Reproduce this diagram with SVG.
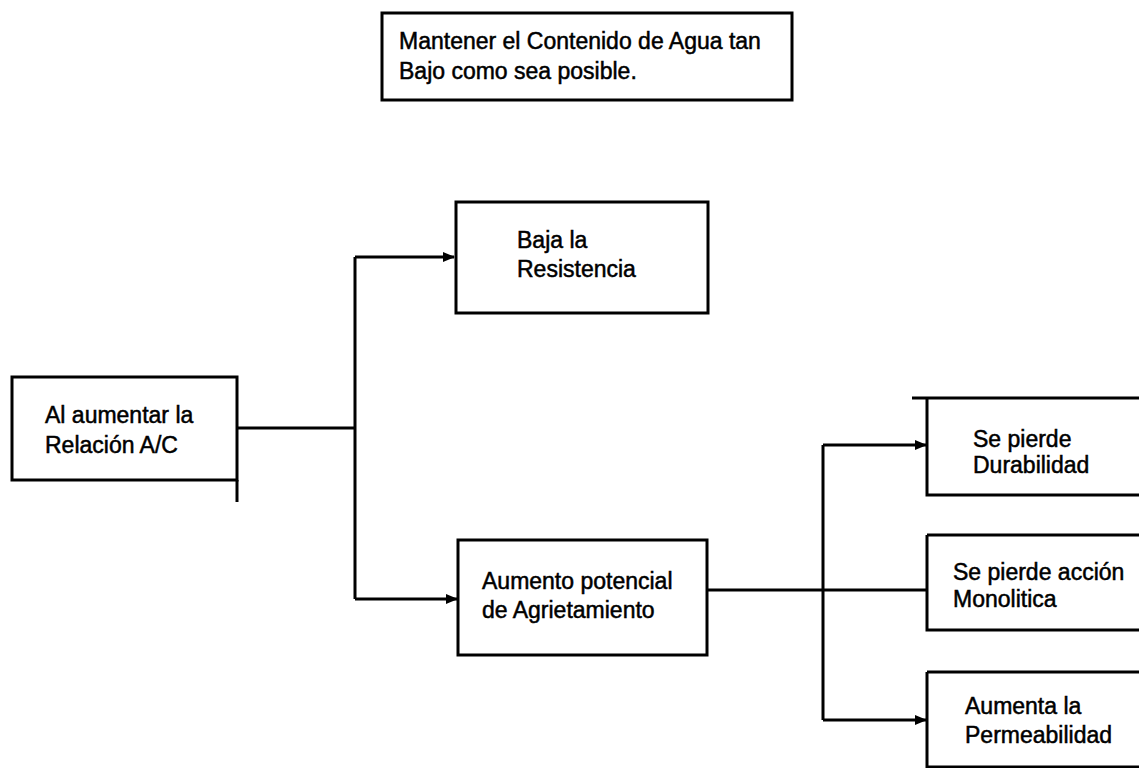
<svg xmlns="http://www.w3.org/2000/svg" width="1139" height="768" viewBox="0 0 1139 768">
<style>
.box{fill:#fff;stroke:#000;stroke-width:3}
.edge{fill:none;stroke:#000;stroke-width:3}
.t{font-family:"Liberation Sans",Arial,sans-serif;font-size:23px;fill:#000;stroke:#000;stroke-width:0.5}
</style>
<defs>
<marker id="arr" markerUnits="userSpaceOnUse" markerWidth="12" markerHeight="12" viewBox="0 0 12 12" refX="11" refY="6" orient="auto">
<path d="M0,1 L12,6 L0,11 Z" fill="#000"/>
</marker>
</defs>
<rect width="1139" height="768" fill="#fff"/>
<g id="connectors">
<path class="edge" d="M237,428 H355"/>
<path class="edge" d="M355,257 V599"/>
<path class="edge" d="M355,257 H454" marker-end="url(#arr)"/>
<path class="edge" d="M355,599 H457" marker-end="url(#arr)"/>
<path class="edge" d="M707,590 H927"/>
<path class="edge" d="M823,445 V720"/>
<path class="edge" d="M823,445 H926" marker-end="url(#arr)"/>
<path class="edge" d="M823,720 H926" marker-end="url(#arr)"/>
</g>
<g id="n_top">
<rect class="box" x="382" y="13" width="410" height="87"/>
<text class="t" x="399" y="49">Mantener el Contenido de Agua tan</text>
<text class="t" x="399" y="79">Bajo como sea posible.</text>
</g>
<g id="n_relacion">
<rect class="box" x="12" y="377" width="225" height="103"/>
<path class="edge" d="M237,480 V502"/>
<text class="t" x="45" y="423">Al aumentar la</text>
<text class="t" x="45" y="453">Relación A/C</text>
</g>
<g id="n_resistencia">
<rect class="box" x="456" y="202" width="252" height="111"/>
<text class="t" x="517" y="248">Baja la</text>
<text class="t" x="517" y="277">Resistencia</text>
</g>
<g id="n_agrietamiento">
<rect class="box" x="458" y="540" width="249" height="115"/>
<text class="t" x="482" y="589">Aumento potencial</text>
<text class="t" x="482" y="618">de Agrietamiento</text>
</g>
<g id="n_durabilidad">
<path class="edge" d="M912,398 H1139 M927,398 V495 H1139"/>
<text class="t" x="973" y="447">Se pierde</text>
<text class="t" x="973" y="473">Durabilidad</text>
</g>
<g id="n_monolitica">
<path class="edge" d="M927,535 H1139 M927,535 V630 H1139"/>
<text class="t" x="953" y="580">Se pierde acción</text>
<text class="t" x="953" y="607">Monolitica</text>
</g>
<g id="n_permeabilidad">
<path class="edge" d="M927,672 H1139 M927,672 V767 H1139"/>
<text class="t" x="965" y="714">Aumenta  la</text>
<text class="t" x="965" y="743">Permeabilidad</text>
</g>
</svg>
